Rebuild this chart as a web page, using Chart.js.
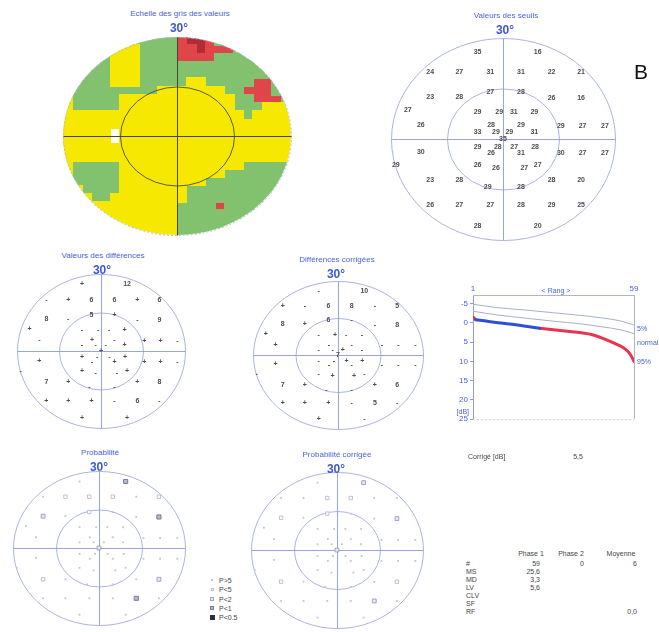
<!DOCTYPE html>
<html lang="fr">
<head>
<meta charset="utf-8">
<title>Champ visuel</title>
<script src="https://cdn.jsdelivr.net/npm/chart.js@4.4.1/dist/chart.umd.min.js"></script>
<style>
    html, body { margin: 0; padding: 0; background: #fff; }
    #page {
        position: relative;
        width: 659px;
        height: 632px;
        overflow: hidden;
        font-family: "Liberation Sans", Arial, sans-serif;
    }
    #page canvas { position: absolute; }
    .txt { position: absolute; white-space: nowrap; line-height: 1; }
    .title { font-size: 8px; color: #4a62d8; }
    .degree { font-size: 12px; font-weight: bold; color: #3d57d6; }
    .small { font-size: 7px; color: #454545; }
    .curve { font-size: 7px; color: #4a62d8; }
    .letter { font-size: 21px; color: #111; }
    .box { position: absolute; box-sizing: border-box; }
</style>
</head>
<body>
<div id="page"></div>
<script>
/** ── Échelle des gris : cases de 2,5°, 24 x 24 (Y jaune, G vert, R rouge, D rouge foncé, W blanc) ── */
const GRID_DEG = 2.5;
const GREY_SCALE_ROWS = [
    'GGGGGGGGGGGGRDDRGGGGGGGG',
    'GGGGGYYYGGGGRRDRRRGGGGGG',
    'GGGGGYYYGGGGRRRRGGGGGGGG',
    'GGGGGYYYGGGGGGGGGGGGGGGG',
    'GGGGGYYYGGGGGGGGGGGGGGGG',
    'GGGGGYYYGGGGGYYGGGGGRRGG',
    'GGGGGGGGGGYYYYYYYGGRRRGG',
    'YGGGGGYYYYYYYYYYYYGGRRRG',
    'YGGGGGYYYYYYYYYYYYGGGYYY',
    'YYYYYYYYYYYYYYYYYYYGYYYY',
    'YYYYYYYYYYYYYYYYYYYYYYYY',
    'YYYYYWYYYYYYYYYYYYYYYYYY',
    'YYYYYWYYYYYYYYYYYYYYYYYY',
    'YYYYYYYYYYYYYYYYYYYYYYYY',
    'YYYYYYYYYYYYYYYYYYYYYYYY',
    'YGGGGGYYYYYYYYYYYYYGGGGG',
    'YGGGGGYYYYYYYYYYYGGGGGGG',
    'YGGGGGYYYYYYYYYGGGGGGGGG',
    'YYGGGGYYYYYYYGGGGGGGGGGG',
    'YYYGGYYYYYYYYGGGGGGGGGGG',
    'YYYYYYYYYYYYGGGGRGGGGGGG',
    'YYYYYYYYYYYYGGGGGGGGGGGG',
    'YYYYYYYYYYYYGGGGGGGGGGGG',
    'YYYYYYYYYYYYGGGGGGGGGGGG',
];

/** ── Points testés (degrés) et valeurs ── */
const FIELD_X = [
    -6.8, 9.3,
    -19.5, -11.7, -3.4, 4.8, 13, 20.9,
    -19.5, -11.7, -3.4, 4.8, 13, 20.9,
    -25.5, -6.8, -1, 2.9, 8.4,
    -22, -3.2, 4.8, 15.5, 21.3, 27.3,
    -6.8, -1.9, 1.7, 8.4,
    0,
    -6.8, -1.4, 3, 8.6,
    -3.2, 4.8, 15.5, 21.3, 27.3,
    -22, -28.7,
    -6.8, -1.9, 5.7, 9.3,
    -19.5, -11.7, -4.1, 4.8, 13, 20.9,
    -19.5, -11.7, -3.4, 4.8, 13, 20.9,
    -6.8, 9.3,
];
const FIELD_Y = [
    25.9, 25.9,
    20, 20, 20, 20, 20, 20,
    12.4, 12.4, 14, 14, 12.1, 12.1,
    8.6, 8.1, 8.1, 8.1, 8.1,
    4.2, 4.2, 4.2, 3.9, 3.9, 3.9,
    2.2, 2.2, 2.2, 2.2,
    0,
    -2.3, -2.3, -2.3, -2.3,
    -4.2, -4.2, -4.2, -4.2, -4.2,
    -3.8, -7.7,
    -7.7, -8.7, -8.7, -7.7,
    -12.2, -12.2, -14.2, -14.2, -12.2, -12.2,
    -19.6, -19.6, -19.6, -19.6, -19.6, -19.6,
    -26, -26,
];
const THRESHOLDS = [
    35, 16,
    24, 27, 31, 31, 22, 21,
    23, 28, 27, 28, 26, 16,
    27, 29, 29, 31, 29,
    26, 28, 29, 29, 27, 27,
    33, 29, 29, 31,
    35,
    29, 28, 27, 28,
    26, 31, 30, 27, 27,
    30, 29,
    26, 26, 27, 27,
    23, 28, 29, 28, 28, 20,
    26, 27, 27, 28, 29, 25,
    28, 20,
];
const DIFFERENCES = [
    '+', '12',
    '-', '+', '6', '6', '+', '6',
    '8', '-', '5', '+', '-', '9',
    '+', '-', '-', '-', '+',
    '-', '+', '-', '+', '+', '-',
    '-', '-', '-', '+',
    '+',
    '+', '-', '-', '+',
    '-', '+', '+', '+', '-',
    '+', '-',
    '+', '-', '-', '+',
    '7', '+', '-', '-', '+', '8',
    '+', '+', '+', '-', '6', '-',
    '+', '+',
];
const CORRECTED_DIFFERENCES = [
    '-', '10',
    '+', '-', '6', '8', '-', '5',
    '8', '+', '6', '-', '-', '8',
    '+', '-', '+', '-', '-',
    '+', '-', '-', '-', '-', '-',
    '-', '-', '+', '-',
    '7',
    '-', '-', '+', '+',
    '-', '-', '-', '-', '-',
    '+', '-',
    '-', '+', '+', '-',
    '7', '+', '-', '-', '+', '6',
    '+', '+', '+', '-', '5', '-',
    '+', '-',
];
// 0: P>5, 1: P<5, 2: P<2, 3: P<1, 4: P<0.5
const PROBABILITY = [
    0, 3,
    0, 1, 1, 1, 0, 1,
    2, 0, 1, 0, 0, 3,
    0, 0, 0, 0, 0,
    0, 0, 0, 0, 0, 0,
    0, 0, 0, 0,
    2,
    0, 0, 0, 0,
    0, 0, 0, 0, 0,
    0, 0,
    0, 0, 0, 0,
    1, 0, 0, 0, 0, 2,
    0, 0, 0, 0, 3, 0,
    0, 0,
];
const CORRECTED_PROBABILITY = [
    0, 2,
    0, 0, 1, 1, 0, 0,
    1, 0, 1, 0, 0, 2,
    0, 0, 0, 0, 0,
    0, 0, 0, 0, 0, 0,
    0, 0, 0, 0,
    2,
    0, 0, 0, 0,
    0, 0, 0, 0, 0,
    0, 0,
    0, 0, 0, 0,
    1, 0, 0, 0, 0, 1,
    0, 0, 0, 0, 2, 0,
    0, 0,
];
const PROB_LEGEND = ['P>5', 'P<5', 'P<2', 'P<1', 'P<0.5'];

/** ── Courbe de Bebie ── */
const BEBIE_RANKS = [1, 2, 5, 10, 15, 20, 25, 30, 35, 40, 44, 48, 51, 54, 56, 57, 58, 59];
const BEBIE_PATIENT = [-1.5, -0.8, -0.5, 0.0, 0.4, 0.9, 1.4, 1.8, 2.2, 2.6, 3.1, 4.1, 5.0, 6.0, 6.9, 7.6, 8.6, 10.0];
const BEBIE_BLUE_FIRST = 2;
const BEBIE_BLUE_LAST = 25;
const NORMAL_RANKS = [1, 10, 20, 30, 40, 47, 54, 59];
const NORMAL_P5 = [-4.8, -3.9, -3.3, -2.6, -1.9, -1.3, -0.5, 0.6];
const NORMAL_MEDIAN = [-3.0, -2.0, -1.2, -0.4, 0.3, 1.0, 1.8, 2.8];
const BEBIE_X_TICKS = [1, 59];
const BEBIE_CURVE_LABELS = ['5%', 'normal', '95%'];

/** ── Indices ── */
const CORRECTION_DB = '5,5';
const STAT_HEADERS = ['Phase 1', 'Phase 2', 'Moyenne'];
const STAT_LABELS = ['#', 'MS', 'MD', 'LV', 'CLV', 'SF', 'RF'];
const STAT_PHASE1 = ['59', '25,6', '3,3', '5,6', '', '', ''];
const STAT_PHASE2 = ['0', '', '', '', '', '', ''];
const STAT_MEAN = ['6', '', '', '', '', '', '0,0'];

/** ── Mise en page & styles ── */
const PANELS = {
    grey: { cx: 177, cy: 136, rx: 114, ry: 99, title: 'Echelle des gris des valeurs', tx: 180, ty: 14 },
    thresholds: { cx: 503, cy: 139, rx: 112, ry: 101, title: 'Valeurs des seuils', tx: 506, ty: 16 },
    differences: { cx: 101, cy: 351, rx: 84, ry: 77, title: 'Valeurs des différences', tx: 103, ty: 256 },
    corrected: { cx: 338, cy: 355, rx: 85, ry: 74, title: 'Différences corrigées', tx: 337, ty: 260 },
    probability: { cx: 99, cy: 548, rx: 86, ry: 77, title: 'Probabilité', tx: 100, ty: 453 },
    probCorrected: { cx: 337, cy: 550, rx: 86, ry: 78, title: 'Probabilité corrigée', tx: 337, ty: 455 },
};
const CELL_COLORS = { Y: '#f6e800', G: '#82c26e', R: '#e0454a', D: '#b02c36', W: '#ffffff' };
const BLUE_TEXT = '#4a62d8';
const GRID_BLUE = { outer: '#aab3e2', inner: '#aab3e2', axis: '#98a3df' };
const GRID_DARK = { onTop: true, outer: '#b3b8d3', outerDash: [2, 2], inner: '#5a5a40', axis: '#44443a' };
const PROB_STYLES = [
    { radius: 1.3, fill: '#c2c6d6', border: '#c2c6d6', width: 0 },
    { radius: 2.4, fill: '#ffffff', border: '#bdc1d2', width: 1 },
    { radius: 2.7, fill: '#e6e9f6', border: '#9ea5c2', width: 1 },
    { radius: 2.9, fill: '#b6bbcf', border: '#737a92', width: 1 },
    { radius: 3.2, fill: '#2d2f3c', border: '#2d2f3c', width: 1 },
];

/** ── Helpers ── */
const page = document.getElementById('page');
const toXY = (xs, ys) => xs.map((x, i) => ({ x, y: ys[i] }));
const fieldPoints = () => toXY(FIELD_X, FIELD_Y);

function addText(text, x, y, cls, align = 'center') {
    const el = document.createElement('div');
    el.className = 'txt ' + cls;
    el.textContent = text;
    el.style.left = x + 'px';
    el.style.top = y + 'px';
    const dx = align === 'center' ? '-50%' : align === 'right' ? '-100%' : '0';
    el.style.transform = `translate(${dx}, -50%)`;
    page.appendChild(el);
}

function addCanvas(left, top, width, height) {
    const canvas = document.createElement('canvas');
    canvas.width = width;
    canvas.height = height;
    canvas.style.left = left + 'px';
    canvas.style.top = top + 'px';
    page.appendChild(canvas);
    return canvas;
}

function ellipseOf(chart) {
    const { x, y } = chart.scales;
    const cx = x.getPixelForValue(0);
    const cy = y.getPixelForValue(0);
    return { cx, cy, rx: x.getPixelForValue(30) - cx, ry: cy - y.getPixelForValue(30) };
}

function drawGrid(chart, o) {
    const { ctx } = chart;
    const e = ellipseOf(chart);
    const cx = Math.round(e.cx) + 0.5;
    const cy = Math.round(e.cy) + 0.5;
    ctx.save();
    ctx.lineWidth = 1;
    ctx.strokeStyle = o.outer;
    ctx.setLineDash(o.outerDash || []);
    ctx.beginPath();
    ctx.ellipse(cx, cy, e.rx, e.ry, 0, 0, 2 * Math.PI);
    ctx.stroke();
    ctx.setLineDash([]);
    ctx.strokeStyle = o.inner;
    ctx.beginPath();
    ctx.ellipse(cx, cy, e.rx / 2, e.ry / 2, 0, 0, 2 * Math.PI);
    ctx.stroke();
    ctx.strokeStyle = o.axis;
    ctx.beginPath();
    ctx.moveTo(cx - e.rx, cy);
    ctx.lineTo(cx + e.rx, cy);
    ctx.moveTo(cx, cy - e.ry);
    ctx.lineTo(cx, cy + e.ry);
    ctx.stroke();
    ctx.restore();
}

/** ── Plugins ── */
const polarGrid = {
    id: 'polarGrid',
    beforeDatasetsDraw(chart, args, opts) { if (!opts.onTop) drawGrid(chart, opts); },
    afterDatasetsDraw(chart, args, opts) { if (opts.onTop) drawGrid(chart, opts); },
};

const ellipseClip = {
    id: 'ellipseClip',
    beforeDatasetsDraw(chart) {
        const { ctx } = chart;
        const e = ellipseOf(chart);
        ctx.save();
        ctx.beginPath();
        ctx.ellipse(e.cx, e.cy, e.rx, e.ry, 0, 0, 2 * Math.PI);
        ctx.clip();
    },
    afterDatasetsDraw(chart) { chart.ctx.restore(); },
};

const pointLabels = {
    id: 'pointLabels',
    afterDatasetsDraw(chart, args, opts) {
        const { ctx } = chart;
        chart.data.datasets.forEach((ds, d) => {
            if (!ds.pointLabels) return;
            ctx.save();
            ctx.font = opts.font;
            ctx.fillStyle = opts.color;
            ctx.textAlign = 'center';
            ctx.textBaseline = 'middle';
            chart.getDatasetMeta(d).data.forEach((pt, i) => ctx.fillText(ds.pointLabels[i], pt.x, pt.y));
            ctx.restore();
        });
    },
};

const bebieFrame = {
    id: 'bebieFrame',
    beforeDatasetsDraw(chart) {
        const { ctx, chartArea: { left, right, top, bottom } } = chart;
        ctx.save();
        ctx.lineWidth = 1;
        ctx.strokeStyle = '#aeb3cf';
        ctx.beginPath();
        ctx.moveTo(left, top + 0.5);
        ctx.lineTo(right, top + 0.5);
        ctx.moveTo(right + 0.5, top);
        ctx.lineTo(right + 0.5, bottom);
        ctx.stroke();
        ctx.setLineDash([2, 2]);
        ctx.strokeStyle = '#cdd0e2';
        ctx.beginPath();
        ctx.moveTo(left, bottom + 0.5);
        ctx.lineTo(right, bottom + 0.5);
        ctx.stroke();
        ctx.restore();
    },
};

/** ── Graphiques du champ ── */
function fieldChart(panel, datasets, pluginOptions, extraPlugins = []) {
    const pad = 8;
    const canvas = addCanvas(panel.cx - panel.rx - pad, panel.cy - panel.ry - pad,
        2 * panel.rx + 2 * pad, 2 * panel.ry + 2 * pad);
    addText(panel.title, panel.tx, panel.ty, 'title');
    addText('30°', panel.tx - 1, panel.ty + 14, 'degree');
    return new Chart(canvas, {
        type: 'scatter',
        data: { datasets },
        options: {
            responsive: false,
            animation: false,
            events: [],
            layout: { padding: pad },
            scales: {
                x: { type: 'linear', min: -30, max: 30, display: false },
                y: { type: 'linear', min: -30, max: 30, display: false },
            },
            plugins: { legend: { display: false }, tooltip: { enabled: false }, ...pluginOptions },
        },
        plugins: [...extraPlugins, polarGrid, pointLabels],
    });
}

function cellSprite(color, w, h) {
    const c = document.createElement('canvas');
    c.width = w;
    c.height = h;
    const g = c.getContext('2d');
    g.fillStyle = color;
    g.fillRect(0, 0, w, h);
    return c;
}

function renderGreyScale() {
    const panel = PANELS.grey;
    const n = GREY_SCALE_ROWS.length;
    const cellW = Math.ceil(2 * panel.rx / n) + 1;
    const cellH = Math.ceil(2 * panel.ry / n) + 1;
    const byCode = {};
    GREY_SCALE_ROWS.forEach((row, j) => [...row].forEach((code, i) => {
        const x = -30 + GRID_DEG * (i + 0.5);
        const y = 30 - GRID_DEG * (j + 0.5);
        if (Math.hypot(x, y) > 30 + GRID_DEG * 0.75) return;
        (byCode[code] ||= []).push({ x, y });
    }));
    const datasets = Object.keys(CELL_COLORS).filter(c => byCode[c]).map(code => ({
        data: byCode[code],
        pointStyle: cellSprite(CELL_COLORS[code], cellW, cellH),
        pointRadius: 4,
    }));
    fieldChart(panel, datasets, { polarGrid: GRID_DARK }, [ellipseClip]);
}

function renderLabels(panel, labels) {
    fieldChart(panel, [{ data: fieldPoints(), pointRadius: 0, pointLabels: labels }], {
        polarGrid: GRID_BLUE,
        pointLabels: { font: 'bold 7px "Liberation Sans", Arial', color: '#4d4d4d' },
    });
}

function renderProbability(panel, cats) {
    const style = ctx => PROB_STYLES[cats[ctx.dataIndex]];
    fieldChart(panel, [{
        data: fieldPoints(),
        pointStyle: 'rect',
        pointRadius: ctx => style(ctx).radius,
        pointBackgroundColor: ctx => style(ctx).fill,
        pointBorderColor: ctx => style(ctx).border,
        pointBorderWidth: ctx => style(ctx).width,
    }], { polarGrid: GRID_BLUE });
}

/** ── Courbe de Bebie ── */
function renderBebie() {
    const canvas = addCanvas(440, 278, 200, 148);
    const patient = toXY(BEBIE_RANKS, BEBIE_PATIENT);
    const blue = patient.filter(p => p.x >= BEBIE_BLUE_FIRST && p.x <= BEBIE_BLUE_LAST);
    const red = [
        ...patient.filter(p => p.x <= BEBIE_BLUE_FIRST),
        { x: BEBIE_BLUE_FIRST + 1, y: null },
        ...patient.filter(p => p.x >= BEBIE_BLUE_LAST),
    ];
    const thin = { borderColor: '#a9aecb', borderWidth: 1, pointRadius: 0 };
    const thick = { borderWidth: 3, pointRadius: 0, borderCapStyle: 'round' };

    new Chart(canvas, {
        type: 'line',
        data: {
            datasets: [
                { ...thin, data: toXY(NORMAL_RANKS, NORMAL_P5) },
                { ...thin, data: toXY(NORMAL_RANKS, NORMAL_MEDIAN) },
                { ...thick, data: blue, borderColor: '#2f4fd6' },
                { ...thick, data: red, borderColor: '#e8354f', spanGaps: false },
            ],
        },
        options: {
            responsive: false,
            animation: false,
            events: [],
            layout: { padding: { left: 0, right: 6, top: 0, bottom: 5 } },
            elements: { line: { cubicInterpolationMode: 'monotone' } },
            scales: {
                x: {
                    type: 'linear',
                    position: 'top',
                    min: 1,
                    max: 59,
                    afterBuildTicks: axis => { axis.ticks = BEBIE_X_TICKS.map(value => ({ value })); },
                    afterFit: axis => { axis.height = 17; },
                    ticks: { font: { size: 8 }, color: BLUE_TEXT, padding: 1, maxRotation: 0, autoSkip: false },
                    grid: { display: false, drawTicks: false },
                    border: { display: false },
                },
                y: {
                    type: 'linear',
                    reverse: true,
                    min: -7.2,
                    max: 25,
                    afterFit: axis => { axis.width = 33; },
                    ticks: { stepSize: 5, includeBounds: false, font: { size: 8 }, color: BLUE_TEXT, padding: 2 },
                    grid: { drawOnChartArea: false, tickLength: 3, color: '#8f9ad8' },
                    border: { color: '#8f9ad8' },
                },
            },
            plugins: { legend: { display: false }, tooltip: { enabled: false } },
        },
        plugins: [bebieFrame],
    });

    addText('< Rang >', 556, 290, 'curve');
    addText('[dB]', 469, 411, 'curve', 'right');
    [328, 342, 361].forEach((y, i) => addText(BEBIE_CURVE_LABELS[i], 637, y, 'curve', 'left'));
}

/** ── Légende & indices ── */
function renderLegend() {
    PROB_LEGEND.forEach((label, i) => {
        const y = 580 + i * 9.3;
        const s = PROB_STYLES[i];
        const side = Math.max(2, Math.round(s.radius * 1.414));
        const box = document.createElement('div');
        box.className = 'box';
        Object.assign(box.style, {
            left: (212 - side / 2) + 'px',
            top: (y - side / 2) + 'px',
            width: side + 'px',
            height: side + 'px',
            background: s.fill,
            border: s.width ? `1px solid ${s.border}` : 'none',
        });
        page.appendChild(box);
        addText(label, 219, y, 'small', 'left');
    });
}

function renderStats() {
    addText('Corrigé [dB]', 468, 456, 'small', 'left');
    addText(CORRECTION_DB, 578, 456, 'small');
    [531, 571, 621].forEach((x, i) => addText(STAT_HEADERS[i], x, 553, 'small'));
    STAT_LABELS.forEach((label, i) => {
        const y = 563 + i * 8;
        addText(label, 466, y, 'small', 'left');
        addText(STAT_PHASE1[i], 540, y, 'small', 'right');
        addText(STAT_PHASE2[i], 584, y, 'small', 'right');
        addText(STAT_MEAN[i], 637, y, 'small', 'right');
    });
}

renderGreyScale();
renderLabels(PANELS.thresholds, THRESHOLDS.map(String));
renderLabels(PANELS.differences, DIFFERENCES);
renderLabels(PANELS.corrected, CORRECTED_DIFFERENCES);
renderProbability(PANELS.probability, PROBABILITY);
renderProbability(PANELS.probCorrected, CORRECTED_PROBABILITY);
renderBebie();
renderLegend();
renderStats();
addText('B', 641, 71, 'letter');
</script>
</body>
</html>
